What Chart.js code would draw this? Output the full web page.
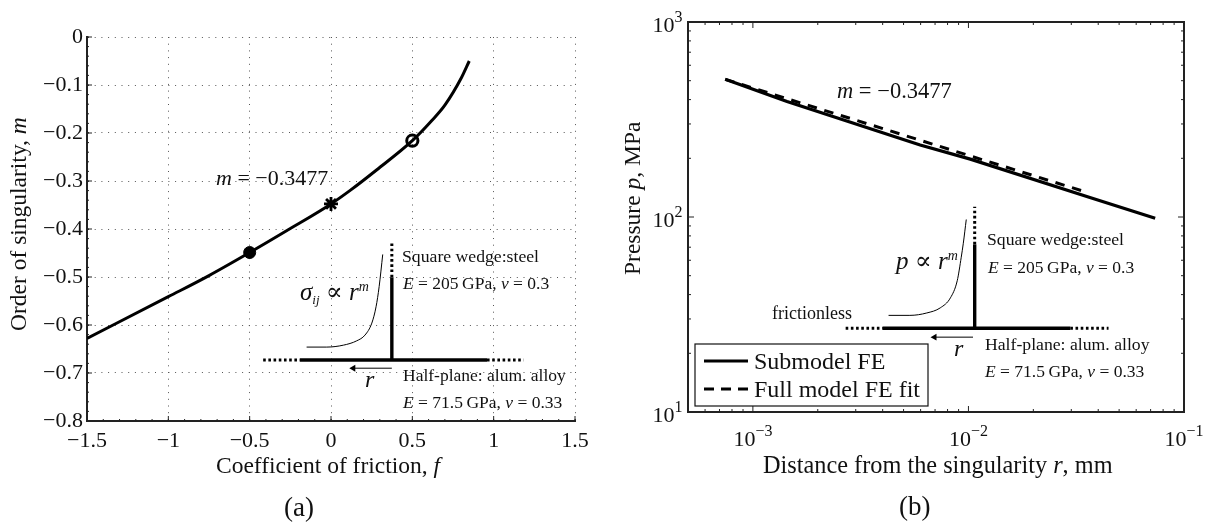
<!DOCTYPE html>
<html>
<head>
<meta charset="utf-8">
<title>Order of singularity and pressure near the wedge corner</title>
<script src="https://cdn.jsdelivr.net/npm/chart.js@4"></script>
<style>
  html, body { margin: 0; padding: 0; background: #fff; overflow: hidden; }
  #wrapA { position: absolute; left: 0; top: 0; width: 600px; height: 527px; }
  #wrapB { position: absolute; left: 600px; top: 0; width: 610px; height: 527px; }
</style>
</head>
<body>
<div id="wrapA"><canvas id="chartA"></canvas></div>
<div id="wrapB"><canvas id="chartB"></canvas></div>
<script>
// (a) singularity curve
const frictionF = [-1.5, -1, -0.75, -0.5, -0.25, 0, 0.12, 0.28, 0.5, 0.62, 0.7, 0.8, 0.85];
const singularityM = [-0.628, -0.541, -0.497, -0.449, -0.399, -0.3477, -0.319, -0.277, -0.216, -0.174, -0.142, -0.086, -0.05];
const solidDotF = [-0.5], solidDotM = [-0.449];
const starF = [0], starM = [-0.3477];
const openDotF = [0.5], openDotM = [-0.216];
const xTicksA = [-1.5, -1, -0.5, 0, 0.5, 1, 1.5];
const xLabelsA = ['−1.5', '−1', '−0.5', '0', '0.5', '1', '1.5'];
const yTicksA = [-0.8, -0.7, -0.6, -0.5, -0.4, -0.3, -0.2, -0.1, 0];
const yLabelsA = ['−0.8', '−0.7', '−0.6', '−0.5', '−0.4', '−0.3', '−0.2', '−0.1', '0'];

// (a) inset sketch
const planeA = { f: [-0.191, 0.959], m: [-0.673, -0.673] };
const planeDotsLA = { f: [-0.417, -0.191], m: [-0.673, -0.673] };
const planeDotsRA = { f: [0.959, 1.184], m: [-0.673, -0.673] };
const wedgeA = { f: [0.374, 0.374], m: [-0.673, -0.5006] };
const wedgeDotsA = { f: [0.374, 0.374], m: [-0.5006, -0.4265] };
const arrowA = { f: [0.374, 0.137], m: [-0.69, -0.69] };
const sketchCurveF = [-0.15, -0.026, 0.076, 0.158, 0.209, 0.251, 0.277, 0.296, 0.318];
const sketchCurveM = [-0.646, -0.646, -0.642, -0.633, -0.621, -0.596, -0.562, -0.52, -0.453];

// (b) pressure lines
const submodelR = [7.44e-4, 1.44e-3, 5.97e-3, 1.02e-2, 3.66e-2, 7.35e-2];
const submodelP = [508, 391, 234, 198, 125.8, 98.6];
const fitR = [7.44e-4, 3.38e-2];
const fitP = [508, 136];
const decadesX = [1e-3, 1e-2, 1e-1];
const expLabelsX = ['−3', '−2', '−1'];
const decadesY = [1e1, 1e2, 1e3];
const expLabelsY = ['1', '2', '3'];

// (b) inset sketch
const planeB = { r: [4.009e-3, 2.969e-2], p: [26.9, 26.9] };
const planeDotsLB = { r: [2.694e-3, 4.009e-3], p: [26.9, 26.9] };
const planeDotsRB = { r: [2.969e-2, 4.466e-2], p: [26.9, 26.9] };
const wedgeB = { r: [1.069e-2, 1.069e-2], p: [26.9, 72.3] };
const wedgeDotsB = { r: [1.069e-2, 1.069e-2], p: [72.3, 113] };
const arrowB = { r: [1.05e-2, 6.96e-3], p: [24.2, 24.2] };
const sketchCurveR = [4.26e-3, 5.35e-3, 6.41e-3, 7.4e-3, 8.25e-3, 8.87e-3, 9.26e-3, 9.46e-3, 9.77e-3];
const sketchCurveP = [31.3, 31.3, 32.2, 34.2, 38.5, 47.1, 62.2, 72.9, 97.1];

const SERIF = '"Liberation Serif", "DejaVu Serif", serif';
const toPts = (xs, ys) => xs.map((x, i) => ({ x: x, y: ys[i] }));

function line(xs, ys, width, extra) {
  return Object.assign({
    data: toPts(xs, ys), showLine: true, borderColor: '#000', borderWidth: width,
    pointRadius: 0, tension: 0
  }, extra || {});
}
function marker(xs, ys, style, radius, fill, width) {
  return {
    data: toPts(xs, ys), showLine: false, pointStyle: style, pointRadius: radius,
    pointBackgroundColor: fill, pointBorderColor: '#000', pointBorderWidth: width
  };
}

// mixed roman / italic / raised text on one baseline
function drawRuns(ctx, runs, x, y, size, angle) {
  ctx.save();
  ctx.translate(x, y);
  if (angle) ctx.rotate(angle);
  ctx.fillStyle = '#111';
  ctx.textAlign = 'left';
  ctx.textBaseline = 'alphabetic';
  let cx = 0;
  runs.forEach(r => {
    const s = r.size || size;
    ctx.font = (r.i ? 'italic ' : '') + s + 'px ' + SERIF;
    ctx.fillText(r.t, cx, r.dy || 0);
    cx += ctx.measureText(r.t).width;
  });
  ctx.restore();
}
function runsWidth(ctx, runs, size) {
  let w = 0;
  runs.forEach(r => {
    ctx.font = (r.i ? 'italic ' : '') + (r.size || size) + 'px ' + SERIF;
    w += ctx.measureText(r.t).width;
  });
  return w;
}

function tickMark(ctx, scale, value, len, side) {
  const a = scale.chart.chartArea;
  const p = scale.getPixelForValue(value);
  ctx.beginPath();
  if (side === 'bottom') { ctx.moveTo(p, a.bottom); ctx.lineTo(p, a.bottom - len); }
  if (side === 'top') { ctx.moveTo(p, a.top); ctx.lineTo(p, a.top + len); }
  if (side === 'left') { ctx.moveTo(a.left, p); ctx.lineTo(a.left + len, p); }
  if (side === 'right') { ctx.moveTo(a.right, p); ctx.lineTo(a.right - len, p); }
  ctx.stroke();
}

const insetTextA = [
  { runs: [{ t: 'm', i: 1 }, { t: ' = −0.3477' }], x: 216, y: 185, size: 22 },
  { runs: [{ t: 'Square wedge:steel' }], x: 402, y: 262, size: 17.7 },
  { runs: [{ t: 'E', i: 1 }, { t: ' = 205\u2009GPa, ' }, { t: 'ν', i: 1 }, { t: ' = 0.3' }], x: 403, y: 289, size: 17.5 },
  { runs: [{ t: 'Half-plane: alum. alloy' }], x: 403, y: 381, size: 17.5 },
  { runs: [{ t: 'E', i: 1 }, { t: ' = 71.5\u2009GPa, ' }, { t: 'ν', i: 1 }, { t: ' = 0.33' }], x: 403, y: 408, size: 17.5 },
  { runs: [{ t: 'σ', i: 1 }, { t: 'ij', i: 1, size: 13, dy: 4 }, { t: ' ∝ ' }, { t: 'r', i: 1 }, { t: 'm', i: 1, size: 14, dy: -9 }], x: 300, y: 300, size: 25 },
  { runs: [{ t: 'r', i: 1 }], x: 365, y: 387, size: 24 },
  { runs: [{ t: 'Coefficient of friction, ' }, { t: 'f', i: 1 }], x: 216, y: 473, size: 23.5 },
  { runs: [{ t: '(a)' }], x: 284, y: 516, size: 27 }
];
const insetTextB = [
  { runs: [{ t: 'm', i: 1 }, { t: ' = −0.3477' }], x: 837, y: 98, size: 22.5 },
  { runs: [{ t: 'Square wedge:steel' }], x: 987, y: 245, size: 17.7 },
  { runs: [{ t: 'E', i: 1 }, { t: ' = 205\u2009GPa, ' }, { t: 'ν', i: 1 }, { t: ' = 0.3' }], x: 988, y: 273, size: 17.5 },
  { runs: [{ t: 'frictionless' }], x: 772, y: 319, size: 18 },
  { runs: [{ t: 'Half-plane: alum. alloy' }], x: 985, y: 350, size: 17.7 },
  { runs: [{ t: 'E', i: 1 }, { t: ' = 71.5\u2009GPa, ' }, { t: 'ν', i: 1 }, { t: ' = 0.33' }], x: 985, y: 377, size: 17.5 },
  { runs: [{ t: 'p', i: 1 }, { t: ' ∝ ' }, { t: 'r', i: 1 }, { t: 'm', i: 1, size: 14, dy: -9 }], x: 896, y: 269, size: 25 },
  { runs: [{ t: 'r', i: 1 }], x: 954, y: 356, size: 24 },
  { runs: [{ t: 'Distance from the singularity ' }, { t: 'r', i: 1 }, { t: ', mm' }], x: 763, y: 473, size: 24.3 },
  { runs: [{ t: '(b)' }], x: 899, y: 515, size: 27 }
];

const chartAPlugin = {
  id: 'panelA',
  afterDatasetsDraw(chart) {
    const ctx = chart.ctx, x = chart.scales.x, y = chart.scales.y;
    ctx.save();
    ctx.strokeStyle = '#222';
    ctx.lineWidth = 1;
    xTicksA.forEach(v => tickMark(ctx, x, v, 5, 'bottom'));
    yTicksA.forEach(v => tickMark(ctx, y, v, 5, 'left'));
    for (let i = 0; i <= 30; i++) tickMark(ctx, x, -1.5 + i * 0.1, 2, 'bottom');
    for (let i = 0; i <= 40; i++) tickMark(ctx, y, -0.8 + i * 0.02, 2, 'left');
    ctx.restore();
    insetTextA.forEach(o => drawRuns(ctx, o.runs, o.x - chart.canvas.offsetParent.offsetLeft, o.y, o.size));
    drawRuns(ctx, [{ t: 'Order of singularity, ' }, { t: 'm', i: 1 }], 26, 331, 23.5, -Math.PI / 2);
  }
};

const chartBPlugin = {
  id: 'panelB',
  afterDatasetsDraw(chart) {
    const ctx = chart.ctx, x = chart.scales.x, y = chart.scales.y, a = chart.chartArea;
    const offset = chart.canvas.offsetParent.offsetLeft;
    ctx.save();
    ctx.strokeStyle = '#222';
    ctx.lineWidth = 2;
    ctx.strokeRect(a.left, a.top, a.right - a.left, a.bottom - a.top);
    ctx.lineWidth = 1;
    [5e-4, 6e-4, 7e-4, 8e-4, 9e-4].concat(
      [1e-3, 1e-2].flatMap(d => [2, 3, 4, 5, 6, 7, 8, 9].map(k => k * d))
    ).forEach(v => { tickMark(ctx, x, v, 3, 'bottom'); tickMark(ctx, x, v, 3, 'top'); });
    [1e1, 1e2].flatMap(d => [2, 3, 4, 5, 6, 7, 8, 9].map(k => k * d))
      .forEach(v => { tickMark(ctx, y, v, 3, 'left'); tickMark(ctx, y, v, 3, 'right'); });
    decadesX.forEach(v => { tickMark(ctx, x, v, 6, 'bottom'); tickMark(ctx, x, v, 6, 'top'); });
    decadesY.forEach(v => { tickMark(ctx, y, v, 6, 'left'); tickMark(ctx, y, v, 6, 'right'); });
    ctx.restore();

    // log tick labels with raised exponents
    decadesX.forEach((v, i) => {
      const runs = [{ t: '10' }, { t: expLabelsX[i], size: 16, dy: -10 }];
      const w = runsWidth(ctx, runs, 22);
      drawRuns(ctx, runs, x.getPixelForValue(v) - w / 2, 446, 22);
    });
    decadesY.forEach((v, i) => {
      drawRuns(ctx, [{ t: '10' }, { t: expLabelsY[i], size: 16, dy: -10 }], 52.5, y.getPixelForValue(v) + 9.5, 22);
    });

    // legend
    ctx.save();
    ctx.fillStyle = '#fff';
    ctx.strokeStyle = '#111';
    ctx.lineWidth = 1.2;
    ctx.fillRect(695 - offset, 344, 233, 62);
    ctx.strokeRect(695 - offset, 344, 233, 62);
    const sets = chart.data.datasets;
    [0, 1].forEach(i => {
      const ly = i === 0 ? 361 : 389;
      ctx.beginPath();
      ctx.strokeStyle = '#000';
      ctx.lineWidth = 3;
      ctx.setLineDash(i === 0 ? [] : [10, 7]);
      ctx.moveTo(704 - offset, ly);
      ctx.lineTo(748 - offset, ly);
      ctx.stroke();
      drawRuns(ctx, [{ t: sets[i].label }], 754 - offset, ly + 7.5, 24);
    });
    ctx.restore();

    insetTextB.forEach(o => drawRuns(ctx, o.runs, o.x - offset, o.y, o.size));
    drawRuns(ctx, [{ t: 'Pressure ' }, { t: 'p', i: 1 }, { t: ', MPa' }], 40, 275, 23.5, -Math.PI / 2);
  }
};

new Chart(document.getElementById('chartA').getContext('2d'), {
  type: 'scatter',
  data: {
    datasets: [
      line(frictionF, singularityM, 3, { cubicInterpolationMode: 'monotone' }),
      marker(solidDotF, solidDotM, 'circle', 6, '#000', 1),
      marker(starF, starM, 'star', 7, '#000', 2.8),
      marker(openDotF, openDotM, 'circle', 5.6, 'rgba(0,0,0,0)', 3),
      line(planeA.f, planeA.m, 3.4),
      line(planeDotsLA.f, planeDotsLA.m, 3, { borderDash: [2.6, 2.6] }),
      line(planeDotsRA.f, planeDotsRA.m, 3, { borderDash: [2.6, 2.6] }),
      line(wedgeA.f, wedgeA.m, 3.4),
      line(wedgeDotsA.f, wedgeDotsA.m, 3, { borderDash: [2.6, 2.6] }),
      line(arrowA.f, arrowA.m, 1, {
        pointRadius: [0, 4], pointStyle: 'triangle', pointRotation: -90,
        pointBackgroundColor: '#000', pointBorderWidth: 0
      }),
      line(sketchCurveF, sketchCurveM, 1, { cubicInterpolationMode: 'monotone' })
    ]
  },
  options: {
    responsive: true, maintainAspectRatio: false, animation: false,
    layout: { padding: { top: 37, right: 25, left: 0, bottom: 0 } },
    plugins: { legend: { display: false }, tooltip: { enabled: false } },
    scales: {
      x: {
        type: 'linear', min: -1.5, max: 1.5,
        afterBuildTicks: s => { s.ticks = xTicksA.map(v => ({ value: v })); },
        afterFit: s => { s.height = 106; },
        ticks: {
          autoSkip: false, maxRotation: 0, padding: 7, color: '#111',
          font: { family: SERIF, size: 22 },
          callback: (v, i) => xLabelsA[i]
        },
        grid: { color: '#555', lineWidth: 1, drawTicks: false },
        border: { color: '#222', width: 2, dash: [1, 5.7] }
      },
      y: {
        type: 'linear', min: -0.8, max: 0,
        afterBuildTicks: s => { s.ticks = yTicksA.map(v => ({ value: v })); },
        afterFit: s => { s.width = 87; },
        ticks: {
          autoSkip: false, padding: 4, color: '#111',
          font: { family: SERIF, size: 22 },
          callback: (v, i) => yLabelsA[i]
        },
        grid: { color: '#555', lineWidth: 1, drawTicks: false },
        border: { color: '#222', width: 2, dash: [1, 5.7] }
      }
    }
  },
  plugins: [chartAPlugin]
});

new Chart(document.getElementById('chartB').getContext('2d'), {
  type: 'scatter',
  data: {
    datasets: [
      line(submodelR, submodelP, 3.2, { label: 'Submodel FE' }),
      line(fitR, fitP, 3, { label: 'Full model FE fit', borderDash: [9.5, 7.8] }),
      line(planeB.r, planeB.p, 3.4),
      line(planeDotsLB.r, planeDotsLB.p, 3, { borderDash: [2.6, 2.6] }),
      line(planeDotsRB.r, planeDotsRB.p, 3, { borderDash: [2.6, 2.6] }),
      line(wedgeB.r, wedgeB.p, 3.4),
      line(wedgeDotsB.r, wedgeDotsB.p, 3, { borderDash: [2.6, 2.6] }),
      line(arrowB.r, arrowB.p, 1, {
        pointRadius: [0, 4], pointStyle: 'triangle', pointRotation: -90,
        pointBackgroundColor: '#000', pointBorderWidth: 0
      }),
      line(sketchCurveR, sketchCurveP, 1, { cubicInterpolationMode: 'monotone' })
    ]
  },
  options: {
    responsive: true, maintainAspectRatio: false, animation: false,
    layout: { padding: { top: 22, right: 26, left: 0, bottom: 0 } },
    plugins: { legend: { display: false }, tooltip: { enabled: false } },
    scales: {
      x: {
        type: 'logarithmic', min: 5e-4, max: 0.1,
        afterFit: s => { s.height = 115; },
        ticks: { display: false },
        grid: { display: false },
        border: { display: false }
      },
      y: {
        type: 'logarithmic', min: 10, max: 1000,
        afterFit: s => { s.width = 88; },
        ticks: { display: false },
        grid: { display: false },
        border: { display: false }
      }
    }
  },
  plugins: [chartBPlugin]
});
</script>
</body>
</html>
